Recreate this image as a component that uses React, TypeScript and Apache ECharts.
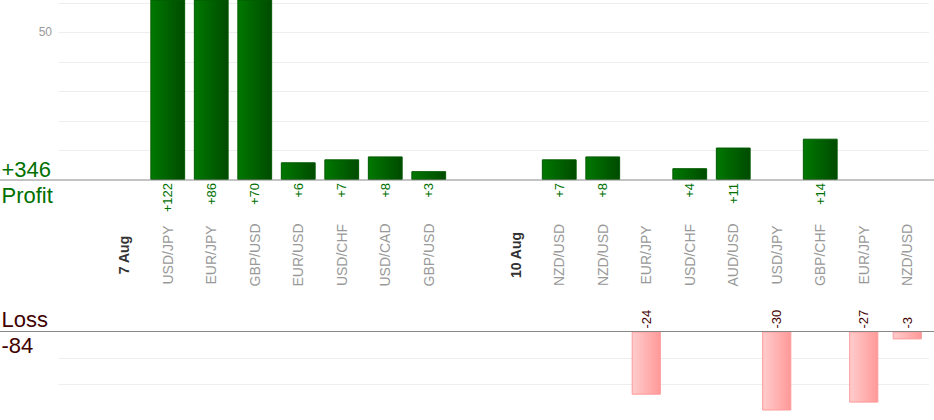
import React, { useEffect, useRef } from "react";
import * as echarts from "echarts";

const categories = [
  "", "7 Aug", "USD/JPY", "EUR/JPY", "GBP/USD", "EUR/USD", "USD/CHF", "USD/CAD", "GBP/USD",
  "", "10 Aug", "NZD/USD", "NZD/USD", "EUR/JPY", "USD/CHF", "AUD/USD", "USD/JPY", "GBP/CHF",
  "EUR/JPY", "NZD/USD",
];
const dateLabels = ["7 Aug", "10 Aug"];
const profit = [null, null, 122, 86, 70, 6, 7, 8, 3, null, null, 7, 8, null, 4, 11, null, 14, null, null];
const loss = [null, null, null, null, null, null, null, null, null, null, null, null, null, -24, null, null, -30, null, -27, -3];
const profitTicks = [50];

const FONT = "'Liberation Sans', Arial, sans-serif";
const GREEN = "#007000";
const MAROON = "#3f0000";

const TOP_GRID = { left: 59, top: 0, width: 870, height: 180 };
const BOT_GRID = { left: 59, top: 331.5, width: 870, height: 79 };

export default function App() {
  const ref = useRef<HTMLDivElement>(null);
  useEffect(() => {
    if (!ref.current) return;
    const chart = echarts.init(ref.current, null, { renderer: "svg" });
    const totalProfit = profit.reduce((s: number, v) => s + (v ?? 0), 0);
    const totalLoss = loss.reduce((s: number, v) => s + (v ?? 0), 0);
    const topAxisY = TOP_GRID.top + TOP_GRID.height;
    const botAxisY = BOT_GRID.top;
    chart.setOption({
      animation: false,
      textStyle: { fontFamily: FONT },
      grid: [TOP_GRID, BOT_GRID],
      xAxis: [
        {
          type: "category",
          gridIndex: 0,
          data: categories,
          axisLine: { show: false },
          axisTick: { show: false },
          axisLabel: {
            interval: 0,
            rotate: 90,
            align: "center",
            verticalAlign: "middle",
            margin: 75,
            color: "#999",
            fontSize: 14,
            fontFamily: FONT,
            formatter: (v: string) => (dateLabels.includes(v) ? `{d|${v}}` : v),
            rich: {
              d: { fontWeight: "bold", color: "#333", fontSize: 14, fontFamily: FONT },
            },
          },
        },
        {
          type: "category",
          gridIndex: 1,
          data: categories,
          position: "top",
          axisLine: { show: false },
          axisTick: { show: false },
          axisLabel: { show: false },
        },
      ],
      yAxis: [
        {
          type: "value",
          gridIndex: 0,
          min: 0,
          max: 61,
          interval: 10,
          axisLine: { show: false },
          axisTick: { show: false },
          axisLabel: {
            color: "#999",
            fontSize: 12,
            margin: 7,
            fontFamily: FONT,
            formatter: (v: number) => (profitTicks.includes(v) ? String(v) : ""),
          },
          splitLine: { lineStyle: { color: "#eeeeee" }, showMaxLine: false, showMinLine: false },
        },
        {
          type: "value",
          gridIndex: 1,
          min: -30,
          max: 0,
          interval: 10,
          axisLine: { show: false },
          axisTick: { show: false },
          axisLabel: { show: false },
          splitLine: { lineStyle: { color: "#eeeeee" }, showMaxLine: false, showMinLine: false },
        },
      ],
      series: [
        {
          type: "bar",
          xAxisIndex: 0,
          yAxisIndex: 0,
          data: profit,
          barWidth: "80%",
          itemStyle: {
            color: new echarts.graphic.LinearGradient(0, 0, 1, 0, [
              { offset: 0, color: "#007800" },
              { offset: 1, color: "#004b00" },
            ]),
            borderColor: "#005a00",
            borderWidth: 1,
          },
          label: {
            show: true,
            position: "bottom",
            rotate: 90,
            align: "right",
            verticalAlign: "middle",
            distance: 3,
            color: GREEN,
            fontSize: 13,
            fontFamily: FONT,
            formatter: (p: any) => "+" + p.value,
          },
        },
        {
          type: "bar",
          xAxisIndex: 1,
          yAxisIndex: 1,
          data: loss,
          barWidth: "67%",
          clip: false,
          itemStyle: {
            color: new echarts.graphic.LinearGradient(0, 0, 1, 0, [
              { offset: 0, color: "#ffcccc" },
              { offset: 1, color: "#ff9999" },
            ]),
            borderColor: "#ff9999",
            borderWidth: 1,
          },
          label: {
            show: true,
            position: "top",
            rotate: 90,
            align: "left",
            verticalAlign: "middle",
            distance: 3,
            color: MAROON,
            fontSize: 13,
            fontFamily: FONT,
            formatter: (p: any) => String(p.value),
          },
        },
      ],
      graphic: [
        {
          type: "line",
          z: 100,
          shape: { x1: 0, y1: topAxisY, x2: 934, y2: topAxisY },
          style: { stroke: "#888", lineWidth: 1 },
        },
        {
          type: "line",
          z: 100,
          shape: { x1: 0, y1: botAxisY, x2: 934, y2: botAxisY },
          style: { stroke: "#888", lineWidth: 1 },
        },
        {
          type: "text",
          z: 100,
          x: 1.5,
          y: topAxisY - 10.5,
          style: {
            text: "+" + totalProfit,
            fill: GREEN,
            font: `22px ${FONT}`,
            textAlign: "left",
            textVerticalAlign: "middle",
          },
        },
        {
          type: "text",
          z: 100,
          x: 1.5,
          y: topAxisY + 15,
          style: {
            text: "Profit",
            fill: GREEN,
            font: `22px ${FONT}`,
            textAlign: "left",
            textVerticalAlign: "middle",
          },
        },
        {
          type: "text",
          z: 100,
          x: 1.5,
          y: botAxisY - 12.5,
          style: {
            text: "Loss",
            fill: MAROON,
            font: `22px ${FONT}`,
            textAlign: "left",
            textVerticalAlign: "middle",
          },
        },
        {
          type: "text",
          z: 100,
          x: 1.5,
          y: botAxisY + 14,
          style: {
            text: String(totalLoss),
            fill: MAROON,
            font: `22px ${FONT}`,
            textAlign: "left",
            textVerticalAlign: "middle",
          },
        },
      ],
    });
    return () => chart.dispose();
  }, []);
  return (
    <div
      ref={ref}
      style={{ position: "absolute", left: 0, top: 0, width: 934, height: 420 }}
    />
  );
}
